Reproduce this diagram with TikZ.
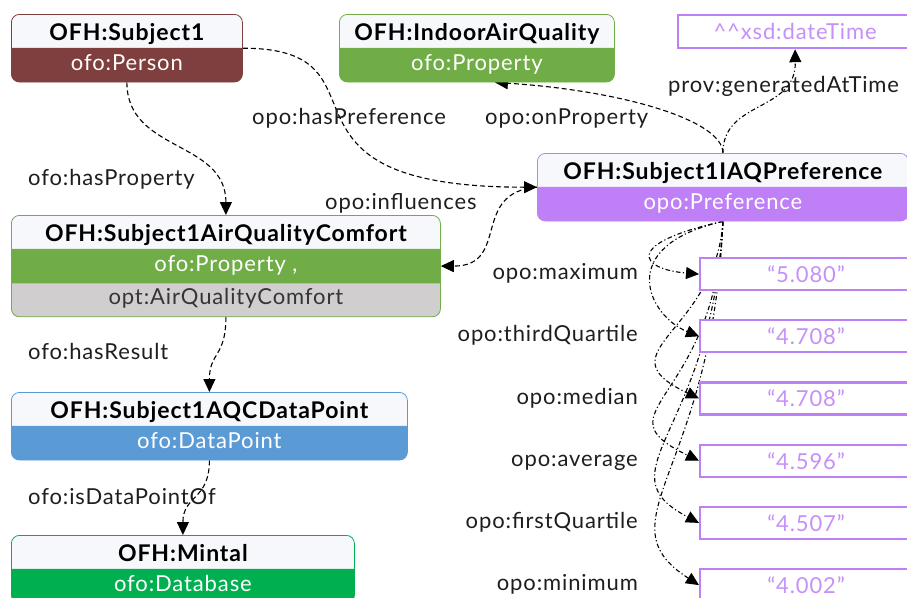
\documentclass[tikz,border=0pt]{standalone}
\usepackage{fontspec}
\setmainfont{Lato}[LetterSpace=4]
\usepackage{xcolor}
\usetikzlibrary{shapes.multipart, arrows.meta, positioning, backgrounds}
\definecolor{titlewhite}{RGB}{247, 248, 252}
\definecolor{personred}{RGB}{127, 63, 63}
\definecolor{propgreen}{RGB}{112, 173, 71}
\definecolor{comfortgray}{RGB}{208, 206, 206}
\definecolor{pointblue}{RGB}{91, 155, 213}
\definecolor{dbgreen}{RGB}{0, 176, 80}
\definecolor{prefpurple}{RGB}{191, 128, 247}
\definecolor{literalpurple}{RGB}{198, 144, 250}
\definecolor{labelblack}{RGB}{30, 30, 30}
% struts for the name band and the type bands
\newcommand{\namestrut}{\rule[-5pt]{0pt}{28pt}}
\newcommand{\typestrut}{\rule[-9pt]{0pt}{28pt}}
\newcommand{\namefont}{\fontsize{23}{26}\selectfont\bfseries}
\tikzstyle{classbox} = [rectangle split, rectangle split parts=2, rounded corners=8pt, line width=0.8pt, draw=#1, rectangle split part fill={titlewhite, #1}, anchor=north west, inner xsep=4pt, inner ysep=2.5pt]
\tikzstyle{valuebox} = [rectangle, draw=prefpurple, line width=2.2pt, fill=white, text=literalpurple, minimum width=212pt, minimum height=32pt, inner sep=0pt]
\tikzstyle{edgelabel} = [inner sep=0pt, text=labelblack, text height=15pt, text depth=4pt]
\tikzstyle{arrow} = [line width=1.1pt, -{Triangle[length=13pt,width=12pt]}]
\tikzstyle{objlink} = [arrow, dash pattern=on 5pt off 3pt]
\tikzstyle{datalink} = [arrow, dash pattern=on 4.5pt off 2.5pt on 1.2pt off 2.5pt]

\begin{document}
\begin{tikzpicture}[x=1pt, y=-1pt, node distance=62.2pt, font=\fontsize{22}{25}\selectfont]
\useasboundingbox (0,0) rectangle (907,597);
\clip (0,0) rectangle (907,597);

% Individuals with their classes
\node (subject) [classbox=personred, minimum width=231pt] at (11,14)
  {\namefont\namestrut OFH:Subject1 \nodepart{two}\color{white}\typestrut ofo:Person};
\node (iaq) [classbox=propgreen, minimum width=275pt] at (339,14)
  {\namefont\namestrut OFH:IndoorAirQuality \nodepart{two}\color{white}\typestrut ofo:Property};
\node (pref) [classbox=prefpurple, minimum width=371pt] at (537,153)
  {\namefont\namestrut OFH:Subject1IAQPreference \nodepart{two}\color{white}\typestrut opo:Preference};
\node (aqc) [classbox=propgreen, minimum width=429pt, rectangle split parts=3, rectangle split part fill={titlewhite, propgreen, comfortgray}] at (11,215)
  {\namefont\namestrut OFH:Subject1AirQualityComfort \nodepart{two}\color{white}\typestrut ofo:Property ,
   \nodepart{three}\color{labelblack!90}\typestrut opt:AirQualityComfort};
\node (dp) [classbox=pointblue, minimum width=396pt] at (11,392)
  {\namefont\namestrut OFH:Subject1AQCDataPoint \nodepart{two}\color{white}\typestrut ofo:DataPoint};
\node (mintal) [classbox=dbgreen, minimum width=343pt] at (11,535)
  {\namefont\namestrut OFH:Mintal \nodepart{two}\color{white}\typestrut ofo:Database};

% Literals
\node (dt) [valuebox, minimum width=234pt, minimum height=33pt, anchor=north west] at (677,14) {\textasciicircum\textasciicircum xsd:dateTime};
\node (vmax) [valuebox, anchor=north west] at (699,257) {“5.080”};
\node (vthird) [valuebox, below of=vmax] {“4.708”};
\node (vmed) [valuebox, below of=vthird] {“4.708”};
\node (vavg) [valuebox, below of=vmed] {“4.596”};
\node (vfirst) [valuebox, below of=vavg] {“4.507”};
\node (vmin) [valuebox, below of=vfirst] {“4.002”};

% Property names
\node (lhaspref) [edgelabel, anchor=base west] at (252,124) {opo:hasPreference};
\node (lhasprop) [edgelabel, anchor=base west] at (28,185) {ofo:hasProperty};
\node (linfl) [edgelabel, anchor=base west] at (325,209) {opo:influences};
\node (lonprop) [edgelabel, anchor=base west] at (485,124) {opo:onProperty};
\node (lgen) [edgelabel, anchor=base west] at (668,92) {prov:generatedAtTime};
\node (lresult) [edgelabel, anchor=base west] at (28,359) {ofo:hasResult};
\node (ldpof) [edgelabel, anchor=base west] at (28,504) {ofo:isDataPointOf};
\node (lmax) [edgelabel, left=61pt of vmax] {opo:maximum};
\node (lthird) [edgelabel, left=61pt of vthird] {opo:thirdQuartile};
\node (lmed) [edgelabel, left=61pt of vmed] {opo:median};
\node (lavg) [edgelabel, left=61pt of vavg] {opo:average};
\node (lfirst) [edgelabel, left=61pt of vfirst] {opo:firstQuartile};
\node (lmin) [edgelabel, left=61pt of vmin] {opo:minimum};

% Links, kept behind the boxes
\begin{scope}[on background layer]
\draw [objlink] (subject.south) .. controls +(0,70) and +(0,-75) .. (aqc.north);
\draw [objlink] (subject.east) .. controls +(158,0) and +(-287,0) .. (pref.west);
\draw [objlink] (pref.west) .. controls +(-67,5) and +(70,0) .. (aqc.east);
\draw [objlink] (pref.north) .. controls +(0,-33) and +(126,8) .. ([xshift=18pt]iaq.south);
\draw [datalink] (pref.north) .. controls +(0,-53) and +(1,63) .. (dt.south);
\draw [objlink] (aqc.south) .. controls +(0,40) and +(0,-40) .. (dp.north);
\draw [objlink] (dp.south) .. controls +(0,40) and +(0,-40) .. (mintal.north);

% Statistics of the preference
\draw [datalink] (pref.south) .. controls +(-100,22) and +(-60,-5) .. (vmax.west);
\draw [datalink] (pref.south) .. controls +(-110,25) and +(-50,-20) .. (vthird.west);
\draw [datalink] (pref.south) .. controls +(-7,112) and +(-99,-47) .. (vmed.west);
\draw [datalink] (pref.south) .. controls +(-7,182) and +(-104,-50) .. (vavg.west);
\draw [datalink] (pref.south) .. controls +(-10,212) and +(-99,-52) .. (vfirst.west);
\draw [datalink] (pref.south) .. controls +(-10,252) and +(-99,-64) .. (vmin.west);
\end{scope}

\end{tikzpicture}
\end{document}
